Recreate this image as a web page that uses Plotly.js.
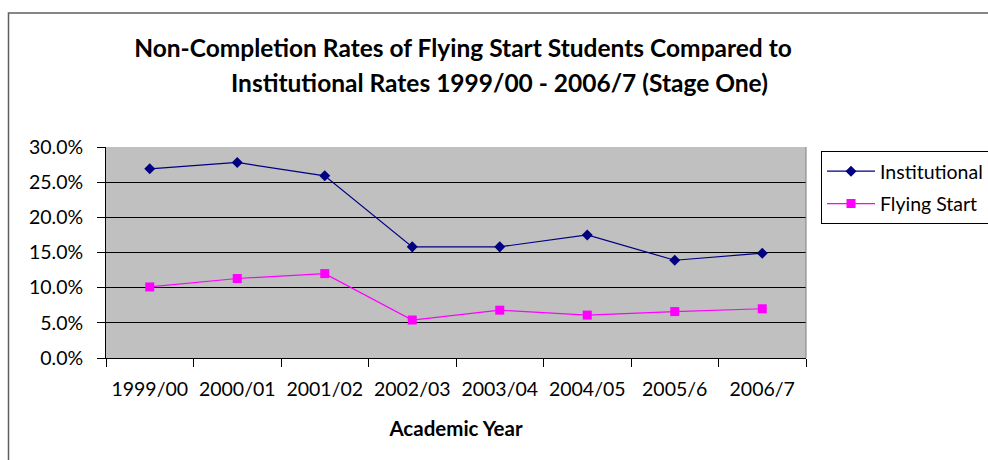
<!DOCTYPE html>
<html>
<head>
<meta charset="utf-8">
<script src="https://cdn.plot.ly/plotly-3.0.1.min.js"></script>
<style>
  html, body { margin: 0; padding: 0; background: #ffffff; }
  #chart { width: 988px; height: 460px; }
</style>
</head>
<body>
<div id="chart"></div>
<script>
// ---- Data ----
const years = ['1999/00', '2000/01', '2001/02', '2002/03', '2003/04', '2004/05', '2005/6', '2006/7'];
const institutional = [0.269, 0.278, 0.259, 0.158, 0.158, 0.175, 0.139, 0.149];
const flyingStart = [0.101, 0.113, 0.120, 0.054, 0.068, 0.061, 0.066, 0.070];
const seriesNames = ['Institutional', 'Flying Start'];
const titleLine1 = 'Non-Completion Rates of Flying Start Students Compared to';
const titleLine2 = 'Institutional Rates 1999/00 - 2006/7 (Stage One)';
const xTitle = 'Academic Year';

const FONT = 'Lato, "Open Sans", sans-serif';

const traces = [
  {
    type: 'scatter', mode: 'lines+markers', name: seriesNames[0], legendgroup: 'a',
    x: years, y: institutional,
    line: { color: '#000080', width: 1.2 },
    marker: { symbol: 'diamond', size: 8.5, color: '#000080' }
  },
  {
    type: 'scatter', mode: 'lines+markers', name: seriesNames[1], legendgroup: 'b',
    x: years, y: flyingStart,
    line: { color: '#FF00FF', width: 1.2 },
    marker: { symbol: 'square', size: 9, color: '#FF00FF' }
  }
];

const layout = {
  width: 988, height: 460,
  margin: { l: 106, r: 182, t: 147, b: 102, pad: 0 },
  paper_bgcolor: '#ffffff',
  plot_bgcolor: '#C0C0C0',
  font: { family: FONT, size: 19.5, color: '#000000' },
  showlegend: true,
  title: {
    text: '<b>' + titleLine1 + '</b>',
    font: { family: FONT, size: 24.5, color: '#000000' },
    x: 463 / 988, xref: 'container', xanchor: 'center',
    y: 1 - 48 / 460, yref: 'container', yanchor: 'middle'
  },
  annotations: [
    {
      text: '<b>' + titleLine2 + '</b>',
      xref: 'paper', yref: 'paper',
      x: (499 - 106) / 700, y: (358 - 82) / 211,
      xanchor: 'center', yanchor: 'middle', showarrow: false,
      font: { family: FONT, size: 24.5, color: '#000000' }
    }
  ],
  xaxis: {
    type: 'category',
    range: [-0.5, years.length - 0.5],
    showgrid: false, zeroline: false,
    showline: true, linecolor: '#000000', linewidth: 1,
    ticks: 'outside', tickson: 'boundaries', ticklen: 8, tickcolor: '#000000', tickwidth: 1,
    ticklabelstandoff: 14,
    tickfont: { family: FONT, size: 19.5, color: '#000000' },
    title: { text: '<b>' + xTitle + '</b>', font: { family: FONT, size: 20.5, color: '#000000' }, standoff: 22 }
  },
  yaxis: {
    range: [0, 0.30], dtick: 0.05, tick0: 0,
    tickformat: '.1%',
    showgrid: true, gridcolor: '#000000', gridwidth: 1,
    zeroline: false,
    showline: true, linecolor: '#000000', linewidth: 1,
    ticks: 'outside', ticklen: 8, tickcolor: '#000000', tickwidth: 1,
    ticklabelstandoff: 10,
    tickfont: { family: FONT, size: 19.5, color: '#000000' }
  },
  legend: {
    xref: 'container', yref: 'container',
    x: 821 / 988, y: 1 - 151 / 460,
    xanchor: 'left', yanchor: 'top',
    bgcolor: '#ffffff', bordercolor: '#000000', borderwidth: 1,
    traceorder: 'grouped', tracegroupgap: 4,
    itemwidth: 48,
    font: { family: FONT, size: 19.5, color: '#000000' }
  },
  shapes: [
    // right edge of plot area (grey border)
    { type: 'line', xref: 'paper', yref: 'paper', x0: 1, x1: 1, y0: 0, y1: 1,
      line: { color: '#808080', width: 1 } },
    // outer chart frame
    { type: 'rect', xref: 'paper', yref: 'paper', layer: 'below',
      x0: (8.5 - 106) / 700, x1: (1000 - 106) / 700,
      y0: (358 - 480) / 211, y1: (358 - 13) / 211,
      line: { color: '#5f5f5f', width: 1.5 } }
  ]
};

Plotly.newPlot('chart', traces, layout, { staticPlot: true, displayModeBar: false });
</script>
</body>
</html>
